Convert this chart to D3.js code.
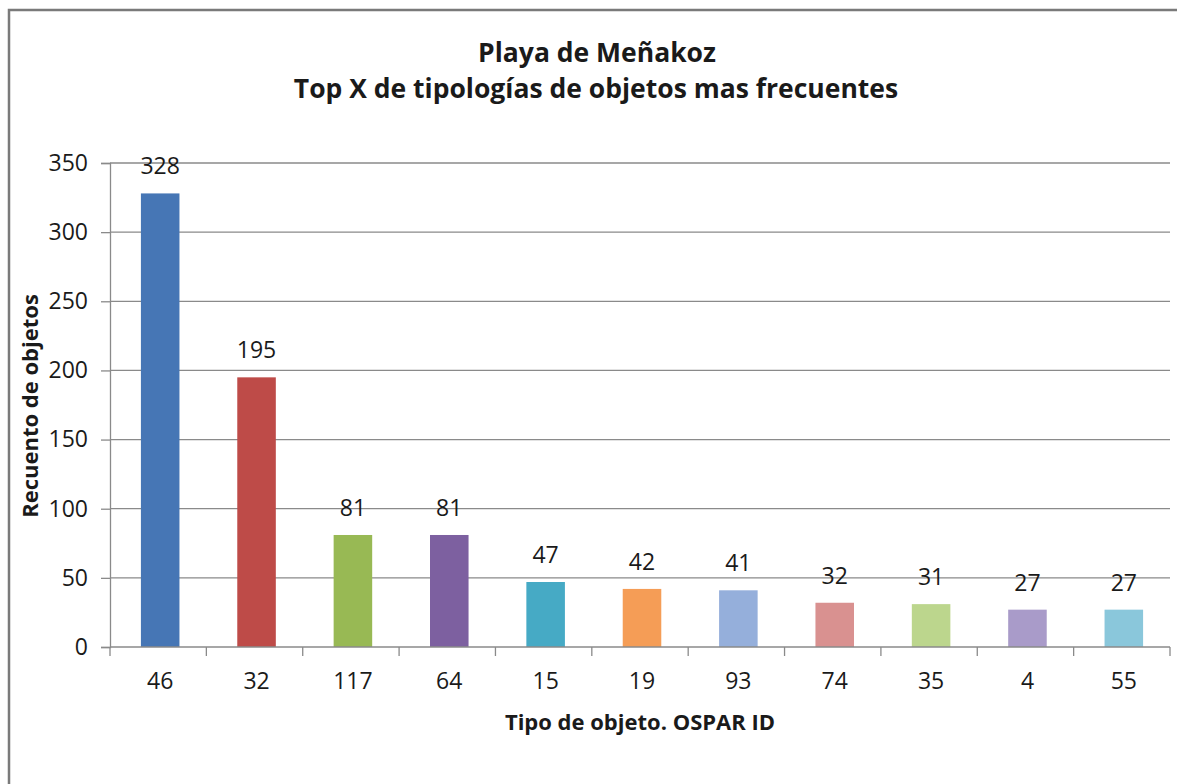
<!DOCTYPE html>
<html>
<head>
<meta charset="utf-8">
<script src="https://cdn.jsdelivr.net/npm/d3@7"></script>
<style>
  html, body { margin: 0; padding: 0; background: #fff; }
  svg { display: block; }
  text { font-family: "Open Sans", "Noto Sans", sans-serif; fill: #1a1a1a; }
</style>
</head>
<body>
<svg id="chart" width="1177" height="784"></svg>
<script>
const titleLines = ["Playa de Meñakoz", "Top X de tipologías de objetos mas frecuentes"];
const categories = ["46", "32", "117", "64", "15", "19", "93", "74", "35", "4", "55"];
const values = [328, 195, 81, 81, 47, 42, 41, 32, 31, 27, 27];
const barColors = ["#4676B5", "#BE4B48", "#98B954", "#7D60A0", "#46AAC5", "#F59D56", "#95AFDB", "#D99190", "#BCD68D", "#A99BC9", "#8AC7DB"];
const yTicks = [0, 50, 100, 150, 200, 250, 300, 350];
const xTitle = "Tipo de objeto. OSPAR ID";
const yTitle = "Recuento de objetos";

const svg = d3.select("#chart");
const plotLeft = 110, plotRight = 1170, plotTop = 163, plotBottom = 647;
const labelSize = 23;

// outer frame
svg.append("rect")
  .attr("x", 9).attr("y", 10).attr("width", 1200).attr("height", 800)
  .attr("fill", "#fff").attr("stroke", "#7a7a7a").attr("stroke-width", 2.5);

const x = d3.scaleBand().domain(categories).range([plotLeft, plotRight]).padding(0);
const y = d3.scaleLinear().domain([0, 350]).range([plotBottom, plotTop]);

// gridlines
svg.append("g").selectAll("line").data(yTicks.filter(d => d > 0)).join("line")
  .attr("x1", plotLeft).attr("x2", plotRight)
  .attr("y1", d => y(d)).attr("y2", d => y(d))
  .attr("stroke", "#8a8a8a").attr("stroke-width", 1.3);

// y axis
const yAxis = svg.append("g").attr("transform", `translate(${plotLeft},0)`)
  .call(d3.axisLeft(y).tickValues(yTicks).tickSize(9).tickPadding(13));
yAxis.select(".domain").attr("stroke", "#8a8a8a").attr("stroke-width", 1.3);
yAxis.selectAll(".tick line").attr("stroke", "#8a8a8a").attr("stroke-width", 1.3);
yAxis.selectAll(".tick text").attr("font-size", labelSize).attr("font-family", "Open Sans").attr("fill", "#1a1a1a");

// bars
const barW = x.bandwidth() * 0.4;
svg.append("g").selectAll("rect").data(values).join("rect")
  .attr("x", (d, i) => x(categories[i]) + x.bandwidth() / 2 - barW / 2 + 2)
  .attr("y", d => y(d))
  .attr("width", barW)
  .attr("height", d => y(0) - y(d))
  .attr("fill", (d, i) => barColors[i]);

// x axis line + tick marks at band boundaries
const xAxisG = svg.append("g");
xAxisG.append("line").attr("x1", plotLeft).attr("x2", plotRight).attr("y1", plotBottom).attr("y2", plotBottom)
  .attr("stroke", "#8a8a8a").attr("stroke-width", 1.3);
xAxisG.selectAll("line.tk").data(d3.range(categories.length + 1)).join("line")
  .attr("class", "tk")
  .attr("x1", i => plotLeft + i * x.step()).attr("x2", i => plotLeft + i * x.step())
  .attr("y1", plotBottom).attr("y2", plotBottom + 9)
  .attr("stroke", "#8a8a8a").attr("stroke-width", 1.3);

// x labels via axis
const xAxis = svg.append("g").attr("transform", `translate(2,${plotBottom})`)
  .call(d3.axisBottom(x).tickSize(0).tickPadding(26));
xAxis.select(".domain").remove();
xAxis.selectAll(".tick text").attr("font-size", labelSize).attr("font-family", "Open Sans").attr("fill", "#1a1a1a");

// data labels
svg.append("g").selectAll("text").data(values).join("text")
  .attr("x", (d, i) => x(categories[i]) + x.bandwidth() / 2 + 2)
  .attr("y", d => y(d) - 19)
  .attr("text-anchor", "middle")
  .attr("font-size", labelSize)
  .text(d => d);

// titles
svg.append("text").attr("x", 597).attr("y", 62).attr("text-anchor", "middle")
  .attr("font-size", 26.5).attr("font-weight", "bold").text(titleLines[0]);
svg.append("text").attr("x", 596).attr("y", 98).attr("text-anchor", "middle")
  .attr("font-size", 26.5).attr("font-weight", "bold").text(titleLines[1]);

svg.append("text").attr("x", 640).attr("y", 730).attr("text-anchor", "middle")
  .attr("font-size", 22).attr("font-weight", "bold").text(xTitle);

svg.append("text").attr("transform", "translate(38,406) rotate(-90)").attr("text-anchor", "middle")
  .attr("font-size", 22).attr("font-weight", "bold").text(yTitle);
</script>
</body>
</html>
